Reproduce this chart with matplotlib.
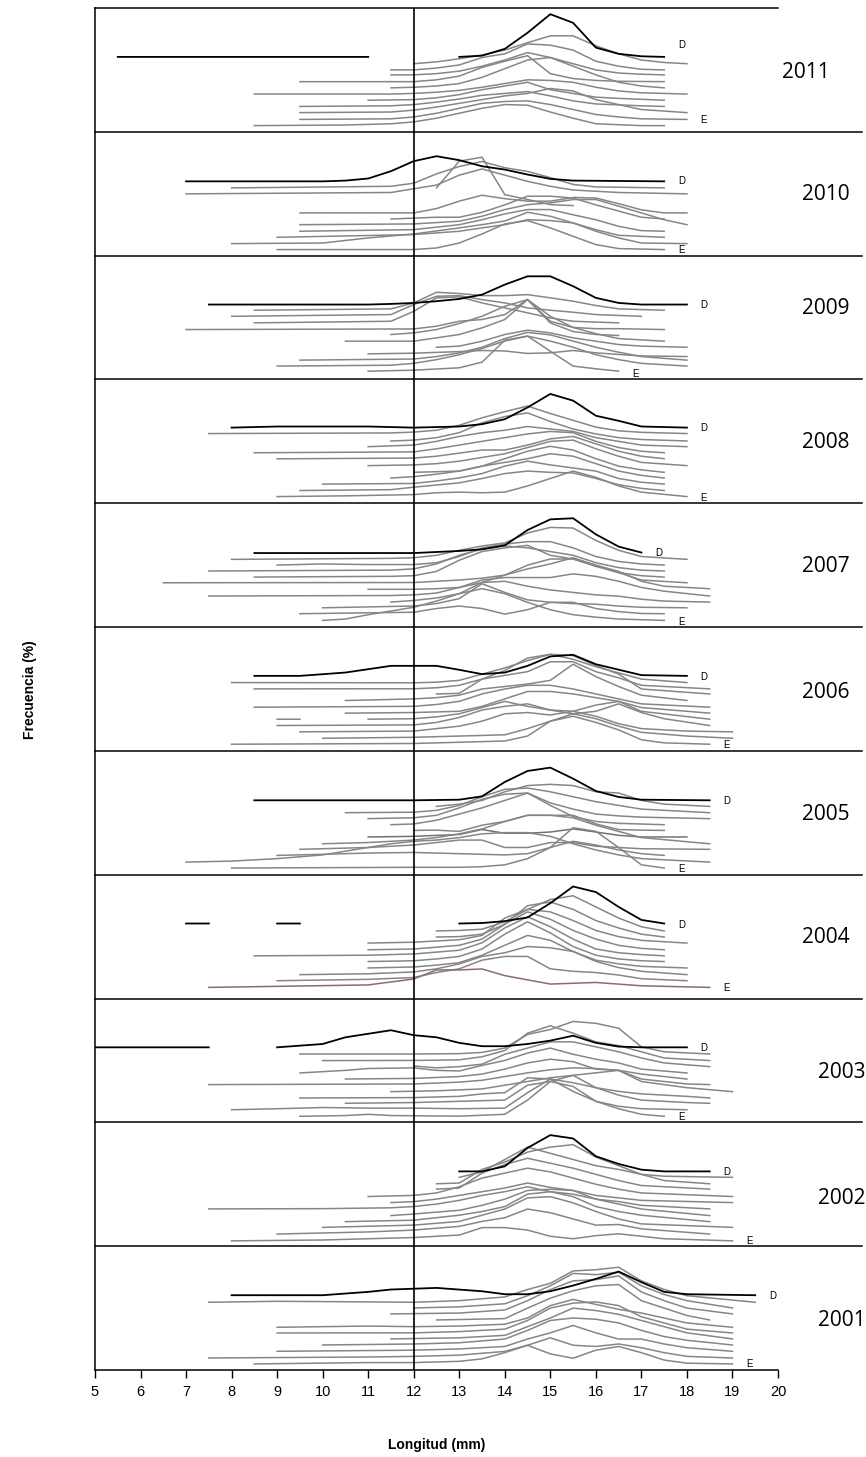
import numpy as np
import matplotlib.pyplot as plt

years = [2011, 2010, 2009, 2008, 2007, 2006, 2005, 2004, 2003, 2002, 2001]

# December curve (black) for each year, (longitud, frecuencia + offset); None = no data
dic_2011 = [(5.5, 60.5), (11, 60.5), None, (13, 60.5), (13.5, 61.5), (14, 67), (14.5, 80),
            (15, 95), (15.5, 88), (16, 68), (16.5, 63), (17, 61), (17.5, 60.5)]
dic_2010 = [(7, 60), (10, 60), (10.5, 60.6), (11, 62.3), (11.5, 68.2), (12, 76.3), (12.5, 80.3),
            (13, 77.1), (13.5, 72.2), (14, 69.5), (14.5, 65.5), (15, 62), (15.5, 60.6), (17.5, 60)]
dic_2009 = [(7.5, 60.5), (11, 60.5), (11.5, 61), (12, 61.8), (12.5, 63.2), (13, 65), (13.5, 68.5),
            (14, 76.6), (14.5, 83.3), (15, 83.3), (15.5, 75.3), (16, 65.9), (16.5, 61.8), (17, 60.5), (18, 60.5)]
dic_2008 = [(8, 61.1), (9, 62), (11, 62), (12, 61.1), (13, 62), (13.5, 63.9), (14, 67.9), (14.5, 77.4),
            (15, 88.3), (15.5, 82.9), (16, 70.7), (16.5, 66.6), (17, 62), (18, 61.1)]
dic_2007 = [(8.5, 59.8), (12, 59.8), (13, 61.5), (13.5, 62.8), (14, 66), (14.5, 78.4), (15, 87),
            (15.5, 87.9), (16, 74.9), (16.5, 65), (17, 60.2)]
dic_2006 = [(8.5, 60.6), (9.5, 60.6), (10.5, 63.3), (11.5, 68.7), (12.5, 68.7), (13, 65.5), (13.5, 62),
            (14, 63.3), (14.5, 68.7), (15, 76.3), (15.5, 77.6), (16, 70), (17, 61.2), (18, 60.6)]
dic_2005 = [(8.5, 60.1), (12, 60.1), (13, 60.6), (13.5, 63.3), (14, 74.9), (14.5, 83.8), (15, 86.5),
            (15.5, 77.6), (16, 67.6), (16.5, 62.8), (17, 60.6), (18.5, 60.1)]
dic_2004 = [(7, 60.6), (7.5, 60.6), None, (9, 60.6), (9.5, 60.6), None, (13, 60.6), (13.5, 61),
            (14, 62.5), (14.5, 65.5), (15, 77), (15.5, 90.5), (16, 86), (16.5, 74), (17, 63.5), (17.5, 60.6)]
dic_2003 = [(5, 60.6), (7.5, 60.6), None, (9, 60.6), (10, 63.3), (10.5, 68.7), (11.5, 74.4), (12, 70.4),
            (12.5, 68.7), (13, 64.2), (13.5, 61.5), (14, 61.5), (14.5, 63.3), (15, 66), (15.5, 70),
            (16, 64.2), (16.5, 61.2), (17, 60.6), (18, 60.6)]
dic_2002 = [(13, 60.4), (13.5, 60.4), (14, 64.5), (14.5, 79.4), (15, 89.7), (15.5, 87), (16, 72.6),
            (16.5, 66.4), (17, 61.8), (17.5, 60.4), (18.5, 60.4)]
dic_2001 = [(8, 60.4), (10, 60.4), (11, 63.1), (11.5, 65), (12.5, 66.3), (13.5, 63.6), (14, 61.2),
            (14.5, 61.2), (15, 63.6), (15.5, 68.2), (16, 73.6), (16.5, 79.5), (17, 70.9), (17.5, 63.1),
            (18, 61.2), (19.5, 60.4)]

# remaining months (grey), from the upper curve down to January (E)
meses_2011 = [
    [(12, 55), (12.5, 56.5), (13, 59), (13.5, 62), (14, 66), (14.5, 72), (15, 77.5), (15.5, 77.5), (16, 69.5), (16.5, 63), (17, 58), (17.5, 56), (18, 55)],
    [(11.5, 50), (12, 50), (12.5, 51.5), (13, 54), (13.5, 60), (14, 63), (14.5, 71), (15, 70), (15.5, 66), (16, 57), (16.5, 53), (17, 50.5), (17.5, 50)],
    [(11.5, 46), (12, 46), (12.5, 47), (13, 49), (13.5, 53), (14, 58), (14.5, 64), (15, 60), (15.5, 55), (16, 50), (16.5, 47.5), (17, 46.5), (17.5, 46)],
    [(9.5, 40.5), (12, 40.5), (12.5, 42), (13, 45), (13.5, 52), (14, 57), (14.5, 61.5), (15, 47), (15.5, 43), (16, 41.5), (16.5, 40.8), (17.5, 40.5)],
    [(11.5, 35.5), (12, 36), (12.5, 37), (13, 39), (13.5, 44), (14, 51), (14.5, 58), (15, 60), (15.5, 53), (16, 46), (16.5, 40), (17, 37), (17.5, 35.5)],
    [(8.5, 30.5), (11.5, 30.5), (12, 31), (12.5, 32), (13, 33.5), (13.5, 36), (14, 39), (14.5, 42), (15, 41.5), (15.5, 40), (16, 36), (16.5, 33), (17, 31.5), (18, 30.5)],
    [(11, 25.5), (12, 26), (12.5, 27.5), (13, 30), (13.5, 34), (14, 37), (14.5, 40), (15, 34), (15.5, 31), (16, 28), (16.5, 27), (17.5, 25.5)],
    [(9.5, 20.5), (11.5, 21), (12, 22), (12.5, 24), (13, 26.5), (13.5, 29.5), (14, 31), (14.5, 32.5), (15, 29), (15.5, 25), (16, 22.5), (17, 21), (17.5, 20.5)],
    [(9.5, 15.5), (11.5, 16), (12, 17.5), (12.5, 20), (13, 23), (13.5, 26), (14, 29), (14.5, 31), (15, 35), (15.5, 33), (16, 26), (16.5, 22), (17, 18), (18, 15.5)],
    [(9.5, 10), (11.5, 10.5), (12, 12), (12.5, 15), (13, 19), (13.5, 23), (14, 24.5), (14.5, 25), (15, 22), (15.5, 18), (16, 14), (16.5, 12), (17, 10.5), (18, 10)],
    [(8.5, 5), (10.5, 5.5), (11.5, 6.5), (12, 8), (12.5, 11), (13, 15), (13.5, 19), (14, 22), (14.5, 21.5), (15, 16), (15.5, 11), (16, 6.5), (17, 5), (17.5, 5)],
]
meses_2010 = [
    [(12.5, 54.7), (13, 76.3), (13.5, 79.5), (14, 49.3), (14.5, 45.3), (15, 41.2), (15.5, 40.4)],
    [(8, 54.7), (11.5, 56), (12, 58.5), (12.5, 66), (13, 72), (13.5, 76), (14, 71), (14.5, 68), (15, 63), (15.5, 57.5), (16, 55.5), (17.5, 54.7)],
    [(7, 49.9), (11.5, 51), (12, 54), (12.5, 57), (13, 65), (13.5, 70), (14, 65), (14.5, 60), (15, 56), (15.5, 53), (16.5, 51), (18, 49.9)],
    [(9.5, 34.5), (12, 34.5), (12.5, 38), (13, 44), (13.5, 48.8), (14, 46), (14.5, 44), (15, 44), (15.5, 47), (16, 46.5), (16.5, 42), (17, 37), (17.5, 34.5), (18, 34.5)],
    [(11.5, 29.6), (12.5, 31), (13, 31), (13.5, 35), (14, 41), (14.5, 48), (15, 48), (15.5, 46.5), (16, 41), (16.5, 36), (17, 31), (17.5, 29.6)],
    [(9.5, 25), (12, 25.6), (13, 27.8), (13.5, 31.8), (14, 37.2), (14.5, 41.2), (15, 42.6), (15.5, 45.3), (16, 45.3), (16.5, 40), (17, 34.5), (17.5, 29), (18, 25)],
    [(9.5, 19.7), (12, 21), (13, 25), (13.5, 29), (14, 33.7), (14.5, 37.2), (15, 37.2), (15.5, 33), (16, 29), (16.5, 23.7), (17, 20.2), (17.5, 19.7)],
    [(9, 14.8), (12, 17), (13, 19.7), (13.5, 22.4), (14, 25), (14.5, 29), (15, 28.3), (15.5, 26.4), (16, 21), (16.5, 16.4), (17.5, 14.8)],
    [(8, 9.7), (10, 10.2), (11, 14.3), (12, 17.5), (13, 22.4), (13.5, 25), (14, 28), (14.5, 35), (15, 31.8), (15.5, 26.4), (16, 19.7), (16.5, 14.3), (17, 10.2), (18, 9.7)],
    [(9, 4.9), (12, 4.9), (12.5, 6.2), (13, 10.2), (13.5, 17.5), (14, 25.6), (14.5, 28.3), (15, 22.4), (15.5, 15.6), (16, 8.9), (16.5, 5.7), (17.5, 4.9)],
]
meses_2009 = [
    [(8.5, 55.9), (11.5, 57), (12, 61.8), (12.5, 70.4), (13, 69.4), (13.5, 67.7), (14, 67.7), (14.5, 68.5), (15, 65.9), (15.5, 63.2), (16, 59.7), (16.5, 57), (17.5, 55.9)],
    [(8, 51), (11.5, 52.4), (12, 60.5), (12.5, 67.2), (13, 67.7), (13.5, 64.5), (14, 61.8), (14.5, 57.8), (15, 55.9), (15.5, 54.3), (16, 52.4), (17, 51)],
    [(8.5, 45.7), (11.5, 47), (12, 55), (12.5, 65.9), (13, 66.7), (13.5, 61.8), (14, 57.8), (14.5, 53.8), (15, 49.7), (15.5, 47), (16.5, 45.7)],
    [(7, 40.3), (12, 40.8), (12.5, 43), (13, 47), (13.5, 48.4), (14, 52.4), (14.5, 64.5), (15, 47), (15.5, 42), (16, 41), (16.5, 41), (17.5, 40.3)],
    [(11.5, 36.3), (12, 37.6), (12.5, 40.3), (13, 45.2), (13.5, 51), (14, 59.1), (14.5, 64.5), (15, 45.7), (15.5, 38.7), (16, 36.3), (16.5, 35.5)],
    [(10.5, 30.9), (12, 30.9), (12.5, 33.6), (13, 36.3), (13.5, 41.7), (14, 48.4), (14.5, 64.5), (15, 51), (15.5, 42), (16, 37), (16.5, 33), (17.5, 30.9)],
    [(12.5, 26), (13, 26.9), (13.5, 30.9), (14, 36.3), (14.5, 39.8), (15, 37.6), (15.5, 33.6), (16, 30.9), (16.5, 28.2), (17, 26.9), (18, 26)],
    [(11, 20.7), (12, 21.2), (13, 22.5), (13.5, 23.4), (14, 23), (14.5, 21), (15, 21.5), (15.5, 23.4), (16, 21.5), (16.5, 20.2), (17, 19), (18, 18.5)],
    [(9.5, 15.6), (12, 16.5), (12.5, 18.5), (13, 21.5), (13.5, 26), (14, 33), (14.5, 38), (15, 36), (15.5, 31), (16, 26), (16.5, 22), (17, 18.5), (18, 15.6)],
    [(9, 10.8), (11.5, 11.5), (12, 13), (12.5, 16), (13, 20), (13.5, 25), (14, 31), (14.5, 35), (15, 31), (15.5, 26), (16, 20), (16.5, 16), (17, 13), (18, 10.8)],
    [(11, 6.7), (12, 7.5), (13, 9.4), (13.5, 14), (14, 31.7), (14.5, 35), (15, 22.8), (15.5, 10.8), (16, 8.6), (16.5, 6.7)],
]
meses_2008 = [
    [(7.5, 56.3), (11.5, 56.8), (12, 57.5), (12.5, 59), (13, 63), (13.5, 69), (14, 74), (14.5, 78.5), (15, 72.5), (15.5, 67), (16, 61.5), (16.5, 58.5), (17, 57.3), (18, 56.3)],
    [(11.5, 50.3), (12, 51), (12.5, 53), (13, 57), (13.5, 65), (14, 70), (14.5, 73), (15, 66), (15.5, 60), (16, 56), (16.5, 53), (17, 51.5), (18, 50.3)],
    [(11, 45.7), (12, 47), (12.5, 50), (13, 54), (13.5, 57), (14, 59), (14.5, 62), (15, 60), (15.5, 58), (16, 53), (16.5, 50), (17, 47), (18, 45.7)],
    [(8.5, 40.8), (12, 41.5), (12.5, 44), (13, 47), (13.5, 50), (14, 53), (14.5, 56), (15, 58), (15.5, 57), (16, 50), (16.5, 45), (17, 42), (17.5, 40.8)],
    [(9, 35.9), (12, 36.5), (12.5, 38), (13, 40.5), (13.5, 43), (14, 43), (14.5, 47), (15, 52), (15.5, 54), (16, 48), (16.5, 42), (17, 38), (17.5, 36)],
    [(11, 30.4), (12, 31), (12.5, 32), (13, 34), (13.5, 37), (14, 40), (14.5, 45), (15, 50), (15.5, 51), (16, 44), (16.5, 38), (17, 33), (18, 30.4)],
    [(12, 25), (13, 26), (13.5, 30), (14, 36), (14.5, 42), (15, 46), (15.5, 43), (16, 36), (16.5, 30), (17, 27), (17.5, 25)],
    [(11.5, 20.4), (12, 21.5), (12.5, 23.5), (13, 26), (13.5, 30), (14, 33), (14.5, 36), (15, 40), (15.5, 38), (16, 32), (16.5, 26), (17, 22.5), (17.5, 20.4)],
    [(10, 15.5), (12, 16), (12.5, 18), (13, 20.5), (13.5, 24), (14, 30), (14.5, 34), (15, 31), (15.5, 28.5), (16, 26), (16.5, 20), (17, 17), (17.5, 15.5)],
    [(9.5, 10.3), (11.5, 11), (12, 13), (13, 16.5), (13.5, 20), (14, 24), (14.5, 26), (15, 25), (15.5, 24.5), (16, 20), (16.5, 15), (17, 12), (17.5, 10.3)],
    [(9, 5.4), (10.5, 6), (12, 7), (12.5, 8.5), (13, 9), (13.5, 8.5), (14, 9), (14.5, 14), (15, 20), (15.5, 26), (16, 21), (16.5, 14), (17, 9), (18, 5.4)],
]
meses_2007 = [
    [(8, 54.7), (11.5, 55.5), (12, 56), (12.5, 58), (13, 62), (13.5, 65.5), (14, 68), (14.5, 76), (15, 80.5), (15.5, 80), (16, 70), (16.5, 62), (17, 57), (18, 54.7)],
    [(9, 50.1), (10, 51), (11, 50.5), (12, 50.5), (12.5, 52), (13, 57), (13.5, 64), (14, 67), (14.5, 69), (15, 69), (15.5, 64), (16, 57), (16.5, 53), (17, 51), (17.5, 50.1)],
    [(7.5, 45.3), (11.5, 46), (12, 47), (12.5, 51), (13, 58), (13.5, 63), (14, 65.5), (14.5, 64), (15, 61), (15.5, 58), (16, 52), (16.5, 48), (17, 46), (17.5, 45.3)],
    [(8.5, 40.4), (11.5, 41), (12, 41.5), (12.5, 45), (13, 54), (13.5, 61), (14, 64), (14.5, 66), (15, 58), (15.5, 55), (16, 50), (16.5, 44), (17, 41.5), (17.5, 40.4)],
    [(6.5, 35.8), (12, 36), (12.5, 37), (13, 38), (13.5, 39.5), (14, 42), (14.5, 50), (15, 55), (15.5, 55), (16, 49), (16.5, 44), (17, 38), (18, 35.8)],
    [(11, 30.5), (12, 30.5), (12.5, 31), (13, 32), (13.5, 36), (14, 42), (14.5, 47), (15, 51), (15.5, 56), (16, 50), (16.5, 45), (17, 37), (17.5, 33), (18.5, 31)],
    [(7.5, 25.1), (11.5, 25.5), (12, 26), (12.5, 27.5), (13, 32), (13.5, 38), (14, 40), (14.5, 40), (15, 40), (15.5, 43), (16, 41), (16.5, 37), (17, 32), (17.5, 29), (18.5, 25.1)],
    [(11.5, 20.2), (12, 21.5), (12.5, 23.5), (13, 27), (13.5, 36), (14, 37), (14.5, 33), (15, 30), (15.5, 28), (16, 26), (16.5, 25), (17, 22.5), (17.5, 21), (18.5, 20.2)],
    [(10, 15.6), (12, 17), (12.5, 19), (13, 23), (13.5, 35), (14, 28), (14.5, 22), (15, 20), (15.5, 19), (16, 18.5), (16.5, 17), (17, 16), (18, 15.6)],
    [(9.5, 10.8), (12, 12), (12.5, 15), (13, 17), (13.5, 15), (14, 10.5), (14.5, 14), (15, 20), (15.5, 20), (16, 15), (16.5, 12.5), (17, 11), (17.5, 10.8)],
    [(10, 5.4), (10.5, 6.5), (11, 10), (12, 16), (12.5, 21), (13, 27), (13.5, 31), (14, 27), (14.5, 20), (15, 14), (15.5, 10), (16, 8), (16.5, 6.5), (17.5, 5.4)],
]
meses_2006 = [
    [(8, 55.2), (12, 55), (12.5, 55.5), (13, 57), (13.5, 62), (14, 67), (14.5, 73), (15, 78), (15.5, 74), (16, 68), (16.5, 63), (17, 58), (18, 55.2)],
    [(8.5, 50.1), (12, 50.2), (12.5, 51), (13, 53), (13.5, 58), (14, 61), (14.5, 64), (15, 72), (15.5, 72), (16, 64), (16.5, 59), (17, 53), (18.5, 50.1)],
    [(12.5, 46), (13, 46.5), (13.5, 58), (14, 65), (14.5, 75), (15, 78), (15.5, 77), (16, 69), (16.5, 62), (17, 50), (18.5, 46)],
    [(10.5, 40.7), (12, 42), (12.5, 43), (13, 45), (13.5, 50), (14, 52), (14.5, 54), (15, 57), (15.5, 70), (16, 60), (16.5, 52), (17, 45), (18, 40.7)],
    [(8.5, 35.3), (12, 36), (12.5, 37.5), (13, 40), (13.5, 46), (14, 50), (14.5, 53), (15, 53), (15.5, 50), (16, 46), (16.5, 42), (17, 38), (18.5, 35.3)],
    [(10.5, 30.5), (12, 31), (13, 32), (13.5, 36), (14, 42), (14.5, 48), (15, 48), (15.5, 46), (16, 43), (16.5, 40), (17, 35), (18.5, 30.5)],
    [(9, 25.6), (9.5, 25.6), None, (11, 25.6), (12, 26), (12.5, 27.5), (13, 30), (13.5, 35), (14, 40), (14.5, 36), (15, 33), (15.5, 32), (16, 37), (16.5, 40), (17, 32), (18.5, 25.6)],
    [(9, 20.5), (12, 21), (12.5, 23), (13, 27), (13.5, 33), (14, 36), (14.5, 38), (15, 33), (15.5, 30), (16, 32), (16.5, 38), (17, 31), (17.5, 26), (18.5, 20.5)],
    [(9.5, 15.4), (12, 16), (12.5, 18), (13, 20), (13.5, 24), (14, 30), (14.5, 31), (15, 29), (15.5, 32), (16, 28), (16.5, 22), (17, 18), (18, 16), (19, 15.4)],
    [(10, 10.2), (12, 11), (13, 12), (14, 13), (14.5, 18), (15, 24), (15.5, 30), (16, 26), (16.5, 20), (17, 15), (18, 12), (19, 10.2)],
    [(8, 5.4), (12, 6), (14, 8), (14.5, 12), (15, 24), (15.5, 28), (16, 23), (16.5, 17), (17, 9), (17.5, 6.5), (18.5, 5.4)],
]
meses_2005 = [
    [(12.5, 55.2), (13, 57), (13.5, 60), (14, 67), (14.5, 72), (15, 73), (15.5, 72), (16, 67), (16.5, 66), (17, 60), (17.5, 57), (18.5, 55.2)],
    [(10.5, 50.1), (12, 50.5), (12.5, 52), (13, 56), (13.5, 63), (14, 69), (14.5, 70), (15, 67), (15.5, 63), (16, 59), (16.5, 56), (17, 53), (18.5, 50.1)],
    [(11, 45.3), (12, 46), (12.5, 48), (13, 54), (13.5, 61), (14, 65), (14.5, 66), (15, 58), (15.5, 53), (16, 49), (16.5, 47.5), (17, 46.5), (18.5, 45.3)],
    [(11.5, 40.4), (12, 41), (12.5, 44), (13, 49), (13.5, 54), (14, 60), (14.5, 66), (15, 56), (15.5, 47), (16, 43), (16.5, 41.5), (17.5, 40.4)],
    [(12, 35.8), (12.5, 36), (13, 35), (13.5, 40), (14, 43), (14.5, 48), (15, 48), (15.5, 48), (16, 41), (16.5, 36.5), (17, 36), (17.5, 35.8)],
    [(11, 30.5), (12, 31), (13, 32.5), (13.5, 36.5), (14, 33.5), (14.5, 33.5), (15, 34.5), (15.5, 37), (16, 34.5), (16.5, 31.8), (17, 30.5), (18, 30.5)],
    [(10, 25), (11, 26), (12, 28), (12.5, 30), (13, 33), (13.5, 37), (14, 43), (14.5, 48), (15, 48), (15.5, 46), (16, 40), (16.5, 35), (17, 30), (18.5, 25)],
    [(9.5, 20.5), (11, 22), (12, 24), (12.5, 26), (13, 28), (13.5, 28), (14, 22), (14.5, 22), (15, 26), (15.5, 26), (16, 23), (16.5, 22), (17, 21), (18.5, 20.5)],
    [(9, 15.6), (10, 16.5), (11, 17.5), (12, 18), (13, 17), (14, 16), (14.5, 17), (15, 22), (15.5, 27), (16, 24), (16.5, 20), (17, 17), (17.5, 15.6)],
    [(7, 10.2), (8, 11), (9, 13), (10, 16), (11, 22), (11.5, 25), (12, 27), (12.5, 28), (13, 30), (13.5, 33), (14, 34), (14.5, 34), (15, 31), (15.5, 25), (16, 20), (16.5, 16), (17, 13), (18.5, 10.2)],
    [(8, 5.4), (12, 6), (13, 6), (13.5, 6.5), (14, 8), (14.5, 13), (15, 22), (15.5, 38), (16, 35), (16.5, 22), (17, 8), (17.5, 5.4)],
]
meses_2004 = [
    [(12.5, 54.6), (13, 55), (13.5, 56), (14, 62), (14.5, 72), (15, 80), (15.5, 83), (16, 74), (16.5, 65), (17, 58), (17.5, 54.6)],
    [(12.5, 49.7), (13, 50), (13.5, 52), (14, 60), (14.5, 75), (15, 78), (15.5, 72), (16, 63), (16.5, 57), (17, 52), (17.5, 49.7)],
    [(11, 44.8), (12, 45.5), (12.5, 46.5), (13, 47.5), (13.5, 51), (14, 65), (14.5, 72), (15, 70), (15.5, 63), (16, 55), (16.5, 50), (17, 47), (18, 44.8)],
    [(11, 39.4), (12, 40), (12.5, 41.5), (13, 43), (13.5, 48), (14, 60), (14.5, 70), (15, 64), (15.5, 55), (16, 48), (16.5, 43), (17, 40.5), (17.5, 39.4)],
    [(8.5, 34.5), (11, 35), (12, 36), (12.5, 37.5), (13, 39), (13.5, 45), (14, 57), (14.5, 66), (15, 58), (15.5, 48), (16, 40), (16.5, 37), (17, 35.5), (17.5, 34.5)],
    [(11, 29.9), (12, 30.5), (12.5, 32), (13, 34), (13.5, 40), (14, 52), (14.5, 62), (15, 53), (15.5, 42), (16, 35), (16.5, 32), (17, 30.5), (17.5, 29.9)],
    [(11, 24.7), (12, 25.5), (12.5, 27), (13, 29), (13.5, 35), (14, 43), (14.5, 51), (15, 47), (15.5, 38), (16, 31), (16.5, 28), (17, 26), (18, 24.7)],
    [(9.5, 19.3), (11, 20), (12, 21.5), (12.5, 24), (13, 28), (13.5, 34), (14, 37), (14.5, 42), (15, 41), (15.5, 38), (16, 30), (16.5, 25), (17, 22), (18, 19.3)],
    [(9, 14.4), (11, 15.5), (12, 17), (12.5, 21), (13, 24), (13.5, 31), (14, 34), (14.5, 34), (15, 24), (15.5, 22), (16, 21), (16.5, 19), (17, 16), (18, 14.4)],
    [(7.5, 9), (11, 11), (12, 15.8), (12.5, 23.1), (13, 23.1), (13.5, 23.9), (14, 18.5), (15, 11.7), (16, 13), (17, 10.3), (18.5, 9)],
]
meses_2003 = [
    [(9.5, 55.2), (12, 55.2), (13, 55.5), (13.5, 56.5), (14, 60), (14.5, 71), (15, 75), (15.5, 81.5), (16, 80), (16.5, 76), (17, 61), (17.5, 57), (18.5, 55.2)],
    [(10, 49.9), (12, 50), (13, 50.5), (13.5, 53), (14, 58), (14.5, 72), (15, 78), (15.5, 72), (16, 65), (16.5, 62), (17, 57), (17.5, 52), (18.5, 49.9)],
    [(12, 45.5), (12.5, 44), (13, 45), (13.5, 47), (14, 55), (14.5, 60), (15, 65), (15.5, 65), (16, 61), (16.5, 57), (17, 52), (17.5, 48), (18.5, 45)],
    [(9.5, 39.9), (10.5, 42), (11, 43.5), (12, 44), (12.5, 42), (13, 41.5), (13.5, 46), (14, 50), (14.5, 56), (15, 60), (15.5, 55), (16, 51), (16.5, 48), (17, 43), (18, 39.9)],
    [(10.5, 35), (12, 35.5), (13, 37), (13.5, 39), (14, 43), (14.5, 48), (15, 51), (15.5, 49), (16, 43), (16.5, 42), (17, 39), (18, 35)],
    [(7.5, 30.5), (12, 31), (13, 32.5), (13.5, 34), (14, 37), (14.5, 40), (15, 42.5), (15.5, 44), (16, 43.5), (16.5, 42), (17, 35), (18, 31), (18.5, 30.5)],
    [(11.5, 24.8), (12.5, 25.5), (13.5, 27), (14, 30), (14.5, 33), (15, 36), (15.5, 38), (16, 40), (16.5, 42), (17, 33), (18, 28), (19, 24.8)],
    [(9.5, 19.7), (12, 20), (13, 21), (13.5, 23), (14, 24), (14.5, 36), (15, 35), (15.5, 32), (16, 28), (16.5, 25), (17, 23), (18, 21), (18.5, 19.7)],
    [(10.5, 15.4), (12, 16), (13, 17), (14, 18), (14.5, 30), (15, 33), (15.5, 38), (16, 28), (16.5, 22), (17, 18), (18, 16), (18.5, 15.4)],
    [(8, 10.2), (9, 11), (10, 12), (11, 11.5), (12, 11.5), (13, 11), (14, 11.5), (14.5, 24), (15, 35), (15.5, 25), (16, 17), (16.5, 13), (17, 11), (18, 10.2)],
    [(9.5, 4.9), (10.5, 5.5), (11, 6.5), (11.5, 5.5), (13, 5), (14, 6.5), (14.5, 18), (15, 33), (15.5, 29), (16, 17), (16.5, 11), (17, 6.5), (17.5, 4.9)],
]
meses_2002 = [
    [(13, 55.6), (13.5, 60), (14, 70), (14.5, 80), (15, 75), (15.5, 70), (16, 65), (16.5, 62), (17, 58), (17.5, 56.5), (19, 55.6)],
    [(12.5, 50.4), (13, 51), (13.5, 62), (14, 68), (14.5, 76), (15, 80), (15.5, 82), (16, 72), (16.5, 65), (17, 58), (17.5, 53), (18.5, 50.4)],
    [(12.5, 46.1), (13, 47), (13.5, 59), (14, 66), (14.5, 71), (15, 67), (15.5, 63), (16, 58), (16.5, 53), (17, 49), (18.5, 46.1)],
    [(11, 40.1), (12, 41), (12.5, 43), (13, 48), (13.5, 55), (14, 59), (14.5, 63), (15, 60), (15.5, 55), (16, 50), (16.5, 46), (17, 43), (19, 40.1)],
    [(11.5, 35.2), (12, 36), (12.5, 38), (13, 41), (13.5, 44), (14, 47), (14.5, 51), (15, 47.5), (15.5, 45), (16, 41), (16.5, 39), (17, 37), (19, 35.2)],
    [(7.5, 30.1), (10, 30.3), (11.5, 31), (12, 32), (12.5, 34), (13, 37), (13.5, 41), (14, 44), (14.5, 48), (15, 44), (15.5, 42), (16, 38), (16.5, 36), (17, 33), (18.5, 30.1)],
    [(11.5, 24.7), (12, 26), (13, 29), (13.5, 33), (14, 38), (14.5, 45), (15, 46), (15.5, 45), (16, 38), (16.5, 34), (17, 30), (18.5, 24.7)],
    [(10.5, 19.8), (12, 21), (13, 25), (13.5, 28), (14, 32), (14.5, 42), (15, 44), (15.5, 40), (16, 32), (16.5, 28), (17, 25), (18.5, 19.8)],
    [(10, 15.2), (12, 17), (13, 20), (13.5, 25), (14, 30), (14.5, 39), (15, 40), (15.5, 35), (16, 28), (16.5, 22), (17, 18), (19, 15.2)],
    [(9, 9.8), (11, 11.5), (12, 13), (13, 16), (13.5, 20), (14, 23), (14.5, 30), (15, 27), (15.5, 22), (16, 17), (16.5, 17.5), (17, 14), (18.5, 9.8)],
    [(8, 4.3), (10, 5), (12, 7), (13, 9), (13.5, 15), (14, 15), (14.5, 13), (15, 8), (15.5, 6), (16, 8.5), (16.5, 10), (17, 8), (17.5, 6), (19, 4.3)],
]
meses_2001 = [
    [(7.5, 54.7), (9, 55.5), (11, 55), (12, 54.7), (13, 56), (14, 59), (14.5, 65), (15, 70), (15.5, 80), (16, 81), (16.5, 83), (17, 72), (17.5, 65), (18, 60), (19.5, 54.7)],
    [(12, 50.1), (13, 51), (14, 53.5), (14.5, 60), (15, 68), (15.5, 78), (16, 77), (16.5, 79), (17, 68), (17.5, 61), (18, 56), (19, 50.1)],
    [(11.5, 45.3), (13, 46), (14, 48.5), (14.5, 56), (15, 65), (15.5, 72), (16, 73), (16.5, 76), (17, 63), (17.5, 56), (18, 50), (19, 45.3)],
    [(12.5, 40.4), (14, 41.5), (14.5, 50), (15, 58), (15.5, 64), (16, 68), (16.5, 69), (17, 56), (17.5, 50), (18, 44), (18.5, 40.4)],
    [(9, 34.5), (10, 35), (11, 35.5), (12, 35), (13, 35.5), (14, 37), (14.5, 42), (15, 52), (15.5, 57), (16, 53), (16.5, 49), (17, 46), (17.5, 42), (18, 38), (19, 34.5)],
    [(9, 29.9), (12, 30), (13, 31), (14, 33), (14.5, 40), (15, 50), (15.5, 54), (16, 55), (16.5, 52), (17, 43), (17.5, 38), (18, 33), (19, 29.9)],
    [(11.5, 25.1), (13, 26), (14, 28), (14.5, 35), (15, 42), (15.5, 50), (16, 48), (16.5, 45), (17, 40), (17.5, 35), (18, 30), (19, 25.1)],
    [(10, 20.2), (12, 21), (13, 22), (14, 25), (14.5, 32), (15, 40), (15.5, 42), (16, 41), (16.5, 38), (17, 32), (17.5, 27), (18, 24), (19, 20.2)],
    [(9, 15.1), (12, 16), (13, 17), (14, 19), (14.5, 25), (15, 30), (15.5, 36), (16, 30), (16.5, 25), (17, 25), (17.5, 21), (18, 18), (19, 15.1)],
    [(7.5, 9.7), (11, 10.5), (12, 11), (13, 12), (14, 15), (14.5, 20), (15, 26), (15.5, 20), (16, 19), (16.5, 21), (17, 18), (17.5, 14), (18, 11), (19, 9.7)],
    [(8.5, 4.9), (11, 6), (12, 6), (13, 7), (13.5, 9), (14, 14), (14.5, 20), (15, 13), (15.5, 9.5), (16, 16), (16.5, 19), (17, 14), (17.5, 8), (18, 5.5), (19, 4.9)],
]

# position of the D and E tags (longitud, height)
etiqueta_d = [(17.8, 70), (17.8, 60), (18.3, 60.5), (18.3, 61), (17.3, 59.5), (18.3, 60),
              (18.8, 59.5), (17.8, 59.5), (18.3, 60), (18.8, 60), (19.8, 60)]
etiqueta_e = [(18.3, 9.5), (17.8, 4.5), (16.8, 4.5), (18.3, 4.5), (17.8, 4.5), (18.8, 4.5),
              (17.8, 4.5), (18.8, 8.5), (17.8, 4.5), (19.3, 3.8), (19.3, 4.5)]
# year tags in figure pixels (x, y from the top)
pos_anio = [(806, 72), (826, 194), (826, 308), (826, 443), (826, 567), (826, 692),
            (826, 815), (826, 938), (842, 1073), (842, 1198), (842, 1320)]

dic = dict(zip(years, [dic_2011, dic_2010, dic_2009, dic_2008, dic_2007, dic_2006,
                       dic_2005, dic_2004, dic_2003, dic_2002, dic_2001]))
meses = dict(zip(years, [meses_2011, meses_2010, meses_2009, meses_2008, meses_2007, meses_2006,
                         meses_2005, meses_2004, meses_2003, meses_2002, meses_2001]))


def to_xy(serie):
    xs = [np.nan if p is None else p[0] for p in serie]
    ys = [np.nan if p is None else p[1] for p in serie]
    return np.array(xs), np.array(ys)


W, H = 866, 1457
fig = plt.figure(figsize=(W / 100, H / 100), dpi=100)
ax = fig.add_axes([95 / W, (H - 1370) / H, 683 / W, 1362 / H])
ax.set_xlim(5, 20)
ax.set_ylim(0, 1100)

gris = '#868686'
for k, yr in enumerate(years):
    off = (10 - k) * 100
    for j, serie in enumerate(meses[yr]):
        xs, ys = to_xy(serie)
        c = gris
        if yr == 2004 and j == len(meses[yr]) - 1:
            c = '#8a6a78'
        if yr == 2005 and j == 5:
            c = '#6f7180'
        ax.plot(xs, ys + off, color=c, lw=1.1, solid_joinstyle='miter')
    xs, ys = to_xy(dic[yr])
    ax.plot(xs, ys + off, color='black', lw=1.3)

    dx, dy = etiqueta_d[k]
    ax.text(dx, dy + off, 'D', fontsize=7, family='Liberation Sans', va='center', ha='left')
    ex, ey = etiqueta_e[k]
    ax.text(ex, ey + off, 'E', fontsize=7, family='Liberation Sans', va='center', ha='left')

    px, py = pos_anio[k]
    fig.text(px / W, 1 - py / H, str(yr), fontsize=15, family='Open Sans',
             ha='center', va='center')

    # panel separator, runs out to the year column
    if k > 0:
        ax.plot([5, 21.85], [off + 100, off + 100], color='black', lw=1.1, clip_on=False)

ax.axvline(12, color='black', lw=1.2)

for s in ['right']:
    ax.spines[s].set_visible(False)
for s in ['left', 'bottom', 'top']:
    ax.spines[s].set_linewidth(1.1)

ax.set_xticks(range(5, 21))
ax.set_yticks([])
ax.tick_params(axis='x', direction='out', length=6, width=1, pad=5, labelsize=10.5)
for lab in ax.get_xticklabels():
    lab.set_family('Liberation Sans')

fig.text(437 / W, 1 - 1445 / H, 'Longitud (mm)', fontsize=10, fontweight='bold',
         family='Liberation Sans', ha='center', va='center')
fig.text(30 / W, 1 - 690 / H, 'Frecuencia (%)', fontsize=10, fontweight='bold',
         family='Liberation Sans', ha='center', va='center', rotation=90)

fig.savefig('out.png', dpi=100)
